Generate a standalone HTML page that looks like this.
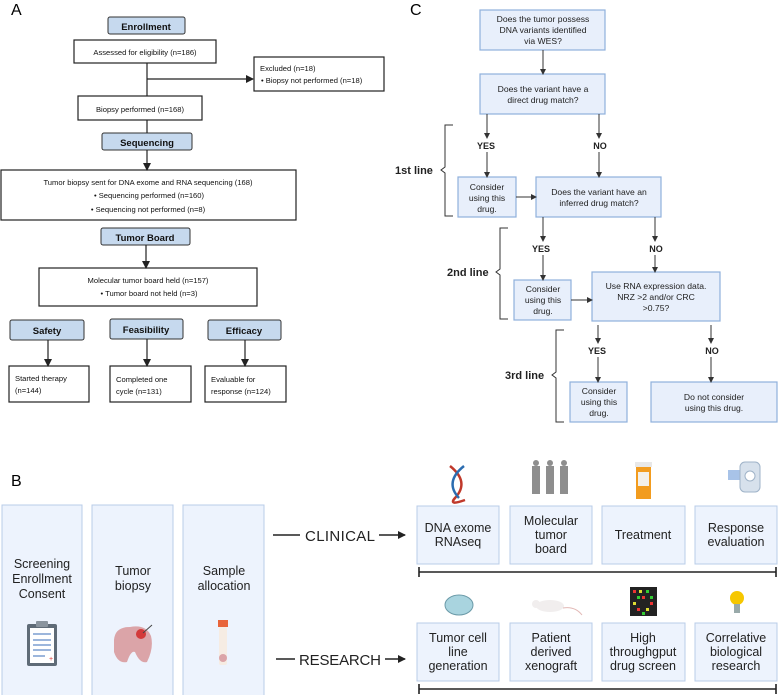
<!DOCTYPE html>
<html><head><meta charset="utf-8"><style>
html,body{margin:0;padding:0;background:#fff;}
svg{display:block;font-family:"Liberation Sans",sans-serif;}
</style></head><body>
<svg width="778" height="695" viewBox="0 0 778 695" xmlns="http://www.w3.org/2000/svg">
<defs>
<marker id="ah" markerWidth="8" markerHeight="8" refX="7" refY="4" orient="auto" markerUnits="userSpaceOnUse"><path d="M0,0 L8,4 L0,8 z" fill="#222"/></marker>
<marker id="as" markerWidth="6" markerHeight="6" refX="5" refY="3" orient="auto" markerUnits="userSpaceOnUse"><path d="M0,0 L6,3 L0,6 z" fill="#333"/></marker>
</defs>

<!-- PANEL A -->
<text x="11" y="15" font-size="16">A</text>
<g stroke="#222" stroke-width="1.2" fill="#fff">
<rect x="74" y="40" width="142" height="23"/>
<rect x="254" y="57" width="130" height="34"/>
<rect x="78" y="96" width="124" height="24"/>
<rect x="1" y="170" width="295" height="50"/>
<rect x="39" y="268" width="218" height="38"/>
<rect x="9" y="366" width="80" height="36"/>
<rect x="110" y="366" width="81" height="36"/>
<rect x="205" y="366" width="81" height="36"/>
</g>
<g stroke="#333" stroke-width="1" fill="#c6d9ee">
<rect x="108" y="17" width="77" height="17" rx="2"/>
<rect x="102" y="133" width="90" height="17" rx="2"/>
<rect x="101" y="228" width="89" height="17" rx="2"/>
<rect x="10" y="320" width="74" height="20" rx="2"/>
<rect x="110" y="319" width="73" height="20" rx="2"/>
<rect x="208" y="320" width="73" height="20" rx="2"/>
</g>
<g stroke="#222" stroke-width="1.2" fill="none">
<line x1="147" y1="63" x2="147" y2="96"/>
<line x1="147" y1="79" x2="253" y2="79" marker-end="url(#ah)"/>
<line x1="147" y1="120" x2="147" y2="133"/>
<line x1="147" y1="150" x2="147" y2="170" marker-end="url(#ah)"/>
<line x1="146" y1="245" x2="146" y2="268" marker-end="url(#ah)"/>
<line x1="48" y1="340" x2="48" y2="366" marker-end="url(#ah)"/>
<line x1="147" y1="339" x2="147" y2="366" marker-end="url(#ah)"/>
<line x1="245" y1="340" x2="245" y2="366" marker-end="url(#ah)"/>
</g>
<g font-size="9.5" font-weight="bold" fill="#111" text-anchor="middle">
<text x="146" y="30">Enrollment</text>
<text x="147" y="146">Sequencing</text>
<text x="145" y="241">Tumor Board</text>
<text x="47" y="334">Safety</text>
<text x="146" y="333">Feasibility</text>
<text x="244" y="334">Efficacy</text>
</g>
<g font-size="7.6" fill="#111">
<text x="145" y="55" text-anchor="middle">Assessed for eligibility (n=186)</text>
<text x="260" y="71">Excluded (n=18)</text>
<text x="261" y="83">• Biopsy not performed (n=18)</text>
<text x="140" y="112" text-anchor="middle">Biopsy performed (n=168)</text>
<text x="148" y="185" text-anchor="middle">Tumor biopsy sent for DNA exome and RNA sequencing (168)</text>
<text x="149" y="198" text-anchor="middle">• Sequencing performed (n=160)</text>
<text x="148" y="212" text-anchor="middle">• Sequencing not performed (n=8)</text>
<text x="148" y="283" text-anchor="middle">Molecular tumor board held (n=157)</text>
<text x="149" y="296" text-anchor="middle">• Tumor board not held (n=3)</text>
<text x="15" y="381">Started therapy</text>
<text x="15" y="393">(n=144)</text>
<text x="116" y="382">Completed one</text>
<text x="116" y="394">cycle (n=131)</text>
<text x="211" y="382">Evaluable for</text>
<text x="211" y="394">response (n=124)</text>
</g>

<!-- PANEL C -->
<text x="410" y="15" font-size="16">C</text>
<g stroke="#8fb0dc" stroke-width="1.2" fill="#e8effb">
<rect x="480" y="10" width="125" height="40"/>
<rect x="480" y="74" width="125" height="40"/>
<rect x="458" y="177" width="58" height="40"/>
<rect x="536" y="177" width="125" height="40"/>
<rect x="514" y="280" width="57" height="40"/>
<rect x="592" y="272" width="128" height="49"/>
<rect x="570" y="382" width="57" height="40"/>
<rect x="651" y="382" width="126" height="40"/>
</g>
<g stroke="#333" stroke-width="1" fill="none">
<line x1="543" y1="50" x2="543" y2="74" marker-end="url(#as)"/>
<line x1="487" y1="114" x2="487" y2="138" marker-end="url(#as)"/>
<line x1="487" y1="152" x2="487" y2="177" marker-end="url(#as)"/>
<line x1="599" y1="114" x2="599" y2="138" marker-end="url(#as)"/>
<line x1="599" y1="152" x2="599" y2="177" marker-end="url(#as)"/>
<line x1="516" y1="197" x2="536" y2="197" marker-end="url(#as)"/>
<line x1="543" y1="217" x2="543" y2="241" marker-end="url(#as)"/>
<line x1="543" y1="255" x2="543" y2="280" marker-end="url(#as)"/>
<line x1="655" y1="217" x2="655" y2="241" marker-end="url(#as)"/>
<line x1="655" y1="255" x2="655" y2="272" marker-end="url(#as)"/>
<line x1="571" y1="300" x2="592" y2="300" marker-end="url(#as)"/>
<line x1="598" y1="325" x2="598" y2="343" marker-end="url(#as)"/>
<line x1="598" y1="357" x2="598" y2="382" marker-end="url(#as)"/>
<line x1="711" y1="325" x2="711" y2="343" marker-end="url(#as)"/>
<line x1="711" y1="357" x2="711" y2="382" marker-end="url(#as)"/>
<path d="M453,125 H445 V167 L441,170 L445,173 V216 H453"/>
<path d="M508,228 H500 V269 L496,272 L500,275 V319 H508"/>
<path d="M564,330 H556 V372 L552,375 L556,378 V422 H564"/>
</g>
<g font-size="8.6" fill="#222" text-anchor="middle">
<text x="543" y="22">Does the tumor possess</text>
<text x="543" y="33">DNA variants identified</text>
<text x="543" y="44">via WES?</text>
<text x="543" y="92">Does the variant have a</text>
<text x="543" y="103">direct drug match?</text>
<text x="487" y="190">Consider</text>
<text x="487" y="201">using this</text>
<text x="487" y="212">drug.</text>
<text x="599" y="195">Does the variant have an</text>
<text x="599" y="206">inferred drug match?</text>
<text x="543" y="292">Consider</text>
<text x="543" y="303">using this</text>
<text x="543" y="314">drug.</text>
<text x="656" y="289">Use RNA expression data.</text>
<text x="656" y="300">NRZ &gt;2 and/or CRC</text>
<text x="656" y="311">&gt;0.75?</text>
<text x="599" y="394">Consider</text>
<text x="599" y="405">using this</text>
<text x="599" y="416">drug.</text>
<text x="714" y="400">Do not consider</text>
<text x="714" y="411">using this drug.</text>
</g>
<g font-size="9" font-weight="bold" fill="#222" text-anchor="middle">
<text x="486" y="149">YES</text><text x="600" y="149">NO</text>
<text x="541" y="252">YES</text><text x="656" y="252">NO</text>
<text x="597" y="354">YES</text><text x="712" y="354">NO</text>
</g>
<g font-size="11" font-weight="bold" fill="#222">
<text x="395" y="174">1st line</text>
<text x="447" y="276">2nd line</text>
<text x="505" y="379">3rd line</text>
</g>

<!-- PANEL B -->
<text x="11" y="486" font-size="16">B</text>
<g stroke="#b9cde8" stroke-width="1" fill="#edf3fd">
<rect x="2" y="505" width="80" height="195"/>
<rect x="92" y="505" width="81" height="195"/>
<rect x="183" y="505" width="81" height="195"/>
<rect x="417" y="506" width="82" height="58"/>
<rect x="510" y="506" width="82" height="58"/>
<rect x="602" y="506" width="83" height="58"/>
<rect x="695" y="506" width="82" height="58"/>
<rect x="417" y="623" width="82" height="58"/>
<rect x="510" y="623" width="82" height="58"/>
<rect x="602" y="623" width="83" height="58"/>
<rect x="695" y="623" width="82" height="58"/>
</g>
<g font-size="12.5" fill="#222" text-anchor="middle">
<text x="42" y="568">Screening</text>
<text x="42" y="583">Enrollment</text>
<text x="42" y="598">Consent</text>
<text x="133" y="575">Tumor</text>
<text x="133" y="590">biopsy</text>
<text x="224" y="575">Sample</text>
<text x="224" y="590">allocation</text>
<text x="458" y="532">DNA exome</text>
<text x="458" y="546">RNAseq</text>
<text x="551" y="525">Molecular</text>
<text x="551" y="539">tumor</text>
<text x="551" y="553">board</text>
<text x="643" y="539">Treatment</text>
<text x="736" y="532">Response</text>
<text x="736" y="546">evaluation</text>
<text x="458" y="642">Tumor cell</text>
<text x="458" y="656">line</text>
<text x="458" y="670">generation</text>
<text x="551" y="642">Patient</text>
<text x="551" y="656">derived</text>
<text x="551" y="670">xenograft</text>
<text x="643" y="642">High</text>
<text x="643" y="656">throughgput</text>
<text x="643" y="670">drug screen</text>
<text x="736" y="642">Correlative</text>
<text x="736" y="656">biological</text>
<text x="736" y="670">research</text>
</g>
<g font-size="15" fill="#222">
<text x="305" y="541" textLength="70">CLINICAL</text>
<text x="299" y="665" textLength="82">RESEARCH</text>
</g>
<g stroke="#222" stroke-width="1.6" fill="none">
<line x1="273" y1="535" x2="300" y2="535"/>
<line x1="379" y1="535" x2="405" y2="535" marker-end="url(#ah)"/>
<line x1="276" y1="659" x2="295" y2="659"/>
<line x1="385" y1="659" x2="405" y2="659" marker-end="url(#ah)"/>
<line x1="419" y1="572" x2="776" y2="572"/>
<line x1="419" y1="567" x2="419" y2="577"/>
<line x1="776" y1="567" x2="776" y2="577"/>
<line x1="419" y1="689" x2="776" y2="689"/>
<line x1="419" y1="684" x2="419" y2="694"/>
<line x1="776" y1="684" x2="776" y2="694"/>
</g>
<!-- icons -->
<g>
<!-- clipboard -->
<rect x="27" y="624" width="30" height="42" fill="#5f6b77" rx="2"/>
<rect x="30" y="628" width="24" height="35" fill="#fff"/>
<rect x="36" y="621" width="12" height="6" fill="#8a949e" rx="1"/>
<g stroke="#7b9dd0" stroke-width="1.5"><line x1="33" y1="634" x2="51" y2="634"/><line x1="33" y1="640" x2="51" y2="640"/><line x1="33" y1="645" x2="51" y2="645"/><line x1="33" y1="650" x2="51" y2="650"/><line x1="33" y1="656" x2="45" y2="656"/></g>
<text x="49" y="661" font-size="7" fill="#d33">+</text>
<!-- brain -->
<path d="M114,640 Q115,627 130,627 Q146,624 151,636 Q154,648 147,662 Q140,664 135,652 Q131,650 127,662 Q118,664 114,652 z" fill="#dba4a8"/>
<circle cx="141" cy="634" r="5" fill="#d33a3a"/>
<line x1="143" y1="633" x2="152" y2="625" stroke="#444" stroke-width="1"/>
<!-- tube -->
<rect x="218" y="620" width="10" height="7" fill="#e8643a"/>
<rect x="219" y="627" width="8" height="38" fill="#f6ece3" rx="2"/>
<ellipse cx="223" cy="658" rx="4" ry="4" fill="#dba4a8"/>
<!-- DNA -->
<path d="M450,466 Q470,482 455,498 Q448,506 465,500" stroke="#c0392b" stroke-width="2.5" fill="none"/>
<path d="M464,466 Q444,482 459,498" stroke="#2b6cb0" stroke-width="2.5" fill="none"/>
<!-- doctors -->
<g fill="#8e8e8e"><rect x="532" y="466" width="8" height="28"/><rect x="546" y="466" width="8" height="28"/><rect x="560" y="466" width="8" height="28"/><circle cx="536" cy="463" r="3"/><circle cx="550" cy="463" r="3"/><circle cx="564" cy="463" r="3"/></g>
<!-- pill bottle -->
<rect x="635" y="462" width="17" height="5" fill="#e8e8e8"/>
<rect x="636" y="467" width="15" height="32" fill="#f29c1f"/>
<rect x="638" y="472" width="11" height="14" fill="#f3f0ea"/>
<!-- scanner -->
<rect x="728" y="470" width="18" height="10" fill="#a8c3e8"/>
<rect x="740" y="462" width="20" height="30" rx="5" fill="#d7e1ec" stroke="#9fb3c8"/>
<circle cx="750" cy="476" r="5" fill="#fff" stroke="#9fb3c8"/>
<!-- petri -->
<ellipse cx="459" cy="605" rx="14" ry="10" fill="#a9d4df" stroke="#6b9aa8"/>
<!-- mouse -->
<ellipse cx="550" cy="606" rx="14" ry="6" fill="#f1eeee"/>
<circle cx="536" cy="604" r="4" fill="#f1eeee"/>
<path d="M563,608 Q575,606 582,615" stroke="#e2b8b5" stroke-width="1" fill="none"/>
<!-- screen -->
<rect x="630" y="587" width="27" height="29" fill="#222"/>
<g fill="#e33"><rect x="633" y="590" width="3" height="3"/><rect x="642" y="596" width="3" height="3"/><rect x="650" y="602" width="3" height="3"/><rect x="637" y="608" width="3" height="3"/></g>
<g fill="#dd3"><rect x="639" y="590" width="3" height="3"/><rect x="633" y="602" width="3" height="3"/><rect x="646" y="608" width="3" height="3"/></g>
<g fill="#3c3"><rect x="646" y="590" width="3" height="3"/><rect x="637" y="596" width="3" height="3"/><rect x="650" y="596" width="3" height="3"/><rect x="642" y="612" width="3" height="3"/></g>
<!-- bulb -->
<circle cx="737" cy="598" r="7" fill="#f6c700"/>
<rect x="734" y="604" width="6" height="9" fill="#9aa"/>
</g>
</svg>
</body></html>
